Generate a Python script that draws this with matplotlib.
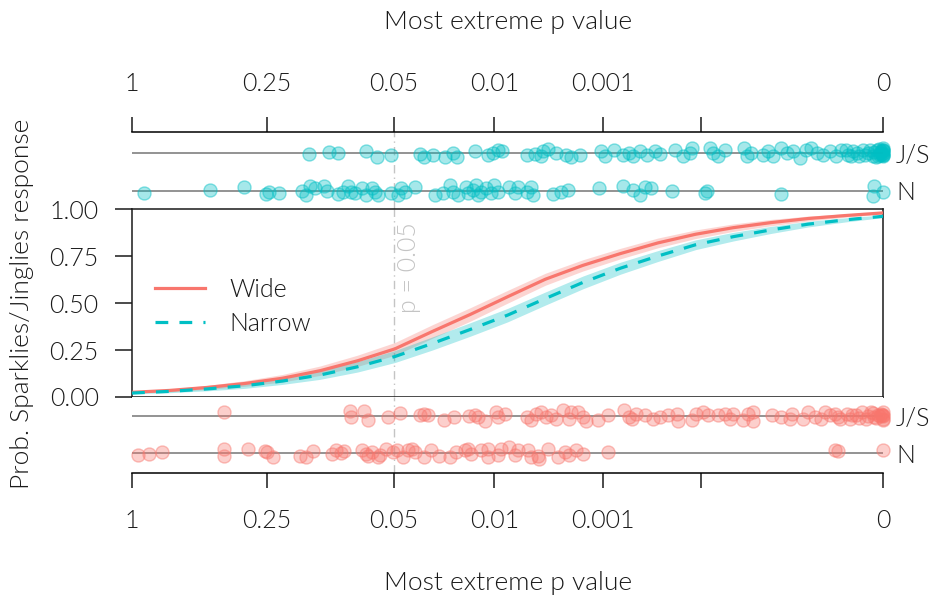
import numpy as np
import matplotlib
matplotlib.use("Agg")
import matplotlib.pyplot as plt
from matplotlib.colors import to_rgba
from matplotlib.lines import Line2D

plt.rcParams['font.family'] = ['Lato', 'DejaVu Sans']
plt.rcParams['font.weight'] = 300

# x positions are on the "evidence" scale: 1 - p**(1/7)  (p = 1 -> 0, p = 0 -> 1)
p_ticks = [1, 0.25, 0.05, 0.01, 0.001, 5e-5, 0]
p_tick_labels = ['1', '0.25', '0.05', '0.01', '0.001', '', '0']

# fitted curves (probability of Sparklies/Jinglies response)
curve_x = [0.0, 0.05, 0.10, 0.15, 0.20, 0.25, 0.30, 0.35, 0.40, 0.45, 0.50,
           0.55, 0.60, 0.65, 0.70, 0.75, 0.80, 0.85, 0.90, 0.95, 1.0]
wide_mid = [0.025, 0.035, 0.051, 0.072, 0.10, 0.14, 0.193, 0.257, 0.35, 0.44, 0.535,
            0.628, 0.702, 0.765, 0.822, 0.868, 0.903, 0.93, 0.952, 0.968, 0.982]
wide_lo = [0.021, 0.028, 0.040, 0.057, 0.080, 0.115, 0.163, 0.223, 0.314, 0.404, 0.501,
           0.596, 0.672, 0.737, 0.796, 0.845, 0.883, 0.913, 0.939, 0.959, 0.976]
wide_hi = [0.029, 0.042, 0.062, 0.087, 0.120, 0.165, 0.223, 0.291, 0.386, 0.476, 0.569,
           0.660, 0.732, 0.793, 0.848, 0.891, 0.923, 0.947, 0.965, 0.977, 0.988]
narrow_mid = [0.021, 0.030, 0.043, 0.060, 0.085, 0.117, 0.161, 0.216, 0.286, 0.36, 0.437,
              0.525, 0.611, 0.687, 0.752, 0.812, 0.855, 0.891, 0.922, 0.945, 0.964]
narrow_lo = [0.017, 0.023, 0.033, 0.046, 0.067, 0.094, 0.133, 0.184, 0.251, 0.324, 0.401,
             0.490, 0.577, 0.655, 0.723, 0.786, 0.832, 0.872, 0.907, 0.934, 0.957]
narrow_hi = [0.025, 0.037, 0.053, 0.074, 0.103, 0.140, 0.189, 0.248, 0.321, 0.396, 0.473,
             0.560, 0.645, 0.719, 0.781, 0.838, 0.878, 0.910, 0.937, 0.956, 0.971]

# raw responses, narrow condition (top strip); y = response (1 = J/S, 0 = N) with jitter
top_js_x = [0.236, 0.262, 0.274, 0.312, 0.326, 0.344, 0.383, 0.389, 0.400, 0.416,
            0.427, 0.433, 0.457, 0.474, 0.480, 0.487, 0.492, 0.525, 0.536, 0.544,
            0.547, 0.554, 0.564, 0.578, 0.584, 0.596, 0.624, 0.629, 0.641, 0.653,
            0.662, 0.667, 0.676, 0.685, 0.696, 0.702, 0.722, 0.733, 0.742, 0.745,
            0.769, 0.773, 0.780, 0.789, 0.815, 0.818, 0.824, 0.840, 0.846, 0.853,
            0.864, 0.871, 0.880, 0.889, 0.897, 0.904, 0.911, 0.920, 0.929, 0.937,
            0.944, 0.953, 0.960, 0.968, 0.973, 0.979, 0.986, 0.991, 0.995, 0.997,
            0.993, 0.998, 0.999, 1.0, 1.0, 1.0, 1.0,
            0.950, 0.957, 0.965, 0.975, 0.982, 0.988, 0.990, 0.994, 0.996, 0.999, 1.0, 1.0]
top_js_y = [0.98, 1.03, 0.99, 1.04, 0.89, 0.94, 0.98, 0.89, 0.96, 0.89,
            1.0, 0.89, 1.04, 0.96, 1.0, 1.09, 1.04, 0.94, 0.98, 0.91,
            1.04, 1.11, 1.0, 0.96, 0.89, 0.96, 1.04, 0.91, 1.09, 0.96,
            1.0, 0.91, 1.04, 0.96, 1.04, 0.98, 1.09, 0.91, 1.0, 1.13,
            1.13, 1.0, 0.91, 1.09, 1.13, 0.91, 1.0, 0.96, 1.04, 0.91,
            1.13, 1.0, 1.04, 0.87, 1.09, 1.13, 1.0, 0.96, 1.04, 0.91,
            1.09, 0.96, 1.04, 0.91, 1.09, 1.0, 0.91, 1.09, 0.96, 1.06,
            0.93, 0.98, 1.08, 1.04, 0.91, 1.0, 1.13,
            1.08, 0.93, 1.0, 0.95, 1.07, 1.02, 0.9, 1.11, 0.99, 0.95, 1.07, 0.95]
top_n_x = [0.016, 0.104, 0.149, 0.178, 0.182, 0.195, 0.226, 0.232, 0.237, 0.243,
           0.255, 0.259, 0.274, 0.281, 0.288, 0.292, 0.297, 0.306, 0.312, 0.319,
           0.323, 0.328, 0.345, 0.354, 0.358, 0.363, 0.376, 0.403, 0.414, 0.423,
           0.427, 0.434, 0.445, 0.447, 0.454, 0.458, 0.460, 0.465, 0.471, 0.478,
           0.482, 0.487, 0.502, 0.509, 0.513, 0.525, 0.531, 0.533, 0.560, 0.571,
           0.580, 0.622, 0.653, 0.667, 0.676, 0.682, 0.691, 0.718, 0.762, 0.765,
           0.864, 0.986, 0.988, 1.0]
top_n_y = [-0.04, 0.03, 0.11, -0.09, -0.02, -0.06, 0.0, -0.11, 0.13, 0.07,
           0.13, 0.0, -0.09, -0.02, 0.13, -0.02, -0.06, 0.09, -0.11, 0.07,
           -0.02, -0.11, -0.06, -0.11, 0.07, -0.02, 0.11, -0.11, -0.06, 0.16,
           -0.02, -0.11, 0.11, -0.06, 0.03, 0.16, -0.11, -0.02, 0.07, -0.06,
           0.16, -0.02, 0.11, -0.06, 0.11, -0.02, 0.11, -0.11, -0.09, -0.02,
           0.03, 0.07, 0.14, 0.03, -0.11, 0.11, 0.09, 0.0, -0.06, 0.0,
           -0.09, -0.12, 0.14, -0.02]

# raw responses, wide condition (bottom strip)
bot_js_x = [0.122, 0.290, 0.291, 0.309, 0.314, 0.340, 0.357, 0.383, 0.389, 0.394,
            0.415, 0.429, 0.449, 0.456, 0.460, 0.470, 0.485, 0.487, 0.496, 0.525,
            0.531, 0.538, 0.544, 0.551, 0.558, 0.564, 0.573, 0.582, 0.584, 0.593,
            0.600, 0.604, 0.620, 0.633, 0.655, 0.662, 0.665, 0.671, 0.682, 0.693,
            0.702, 0.713, 0.725, 0.727, 0.745, 0.751, 0.760, 0.767, 0.780, 0.789,
            0.796, 0.800, 0.813, 0.820, 0.826, 0.826, 0.851, 0.864, 0.875, 0.878,
            0.893, 0.900, 0.909, 0.917, 0.922, 0.929, 0.935, 0.942, 0.951, 0.955,
            0.964, 0.971, 0.977, 0.984, 0.988, 0.993, 0.997, 1.0, 1.0, 1.0,
            1.0, 0.998,
            0.940, 0.958, 0.968, 0.980, 0.986, 0.990, 0.995, 1.0]
bot_js_y = [1.11, 1.13, 0.97, 1.13, 0.90, 0.96, 1.08, 1.02, 1.06, 1.02,
            0.90, 0.97, 0.99, 1.04, 0.97, 0.87, 1.11, 0.96, 1.06, 0.97,
            0.90, 1.06, 1.11, 0.97, 1.02, 0.93, 1.15, 0.93, 1.11, 1.11,
            0.97, 0.87, 0.89, 1.02, 1.15, 0.97, 0.93, 1.06, 1.02, 0.93,
            0.97, 1.02, 1.06, 0.87, 0.89, 1.06, 1.11, 1.02, 1.02, 1.06,
            0.93, 1.06, 0.89, 1.06, 1.11, 0.87, 1.04, 0.97, 0.93, 1.06,
            0.93, 1.11, 0.97, 0.93, 1.11, 1.02, 1.06, 0.93, 1.06, 0.93,
            1.02, 1.11, 0.93, 1.11, 0.97, 1.02, 1.06, 0.93, 0.99, 1.1,
            0.9, 1.04,
            0.98, 1.04, 0.95, 1.0, 1.08, 0.95, 1.0, 1.03]
bot_n_x = [0.008, 0.022, 0.040, 0.122, 0.123, 0.154, 0.177, 0.179, 0.188, 0.223,
           0.231, 0.241, 0.266, 0.272, 0.278, 0.282, 0.306, 0.311, 0.314, 0.319,
           0.328, 0.330, 0.338, 0.347, 0.352, 0.361, 0.367, 0.372, 0.376, 0.389,
           0.398, 0.409, 0.423, 0.431, 0.443, 0.447, 0.451, 0.465, 0.474, 0.474,
           0.487, 0.491, 0.502, 0.509, 0.513, 0.527, 0.531, 0.540, 0.542, 0.553,
           0.567, 0.576, 0.582, 0.591, 0.600, 0.633, 0.935, 0.940, 1.0]
bot_n_y = [-0.06, -0.04, 0.03, 0.11, -0.09, 0.11, 0.05, 0.03, -0.12, -0.09,
           -0.11, 0.05, -0.04, 0.09, 0.0, 0.05, 0.07, -0.04, -0.09, 0.03,
           -0.11, -0.06, 0.11, 0.03, 0.07, -0.11, 0.07, 0.11, 0.03, -0.11,
           0.09, -0.09, -0.12, 0.03, 0.07, 0.11, -0.04, 0.09, 0.11, -0.11,
           -0.06, 0.11, 0.16, -0.06, 0.07, 0.09, -0.12, -0.09, -0.15, 0.11,
           -0.11, 0.03, -0.06, 0.07, -0.04, 0.03, 0.07, 0.05, 0.07]

red = '#F8766D'
cyan = '#00BFC4'
ink = '#1a1a1a'
fs = 18      # tick labels, legend
fs_title = 19


def evid(p):
    return 1 - np.asarray(p, dtype=float) ** (1 / 7)


W, H = 934, 599
fig = plt.figure(figsize=(W / 100, H / 100), dpi=100)


def box(l, t, r, b):
    return [l / W, 1 - b / H, (r - l) / W, (b - t) / H]


ax_top = fig.add_axes(box(132, 132, 883.5, 209.5))
ax = fig.add_axes(box(132, 209.5, 883.5, 397))
ax_bot = fig.add_axes(box(132, 397, 883.5, 473))

p05 = float(evid(0.05))
for a in (ax_top, ax, ax_bot):
    a.set_xlim(0, 1)
    a.axvline(p05, color='#c4c4c4', lw=1, ls=(0, (6, 3, 1, 3)), zorder=0)


def strip(a, jx, jy, nx, ny, col):
    for row in (1, 0):
        a.axhline(row, color='#808080', lw=1.2, zorder=1)
    a.scatter(jx + nx, jy + ny, s=88, facecolor=to_rgba(col, 0.35),
              edgecolor=to_rgba(col, 0.45), linewidths=1, zorder=2, clip_on=False)
    for s in a.spines.values():
        s.set_visible(False)
    a.yaxis.tick_right()
    a.set_yticks([1, 0])
    a.set_yticklabels(['J/S', 'N'])
    a.tick_params(axis='y', length=0, pad=9, labelsize=fs, labelcolor=ink)
    a.set_xticks(evid(p_ticks))
    a.set_xticklabels(p_tick_labels)
    a.tick_params(axis='x', length=11, width=1.1, pad=15, labelsize=fs,
                  color=ink, labelcolor=ink)


strip(ax_top, top_js_x, top_js_y, top_n_x, top_n_y, cyan)
ax_top.set_ylim(-0.487, 1.553)
ax_top.spines['top'].set_visible(True)
ax_top.spines['top'].set_linewidth(1.1)
ax_top.xaxis.tick_top()

strip(ax_bot, bot_js_x, bot_js_y, bot_n_x, bot_n_y, red)
ax_bot.set_ylim(-0.54, 1.514)
ax_bot.spines['bottom'].set_visible(True)
ax_bot.spines['bottom'].set_linewidth(1.1)

# main panel
ax.fill_between(curve_x, wide_lo, wide_hi, color=red, alpha=0.3, lw=0, zorder=1)
ax.fill_between(curve_x, narrow_lo, narrow_hi, color=cyan, alpha=0.3, lw=0, zorder=1)
ax.plot(curve_x, wide_mid, color=red, lw=2.3, zorder=3)
ax.plot(curve_x, narrow_mid, color=cyan, lw=2.3, dashes=(4, 3.5), zorder=3)
ax.set_ylim(0, 1)
ax.set_xticks([])
ax.set_yticks([0, 0.25, 0.5, 0.75, 1])
ax.set_yticklabels(['0.00', '0.25', '0.50', '0.75', '1.00'])
ax.tick_params(axis='y', length=12, width=1.1, pad=12, labelsize=fs,
               color=ink, labelcolor=ink)
for s in ax.spines.values():
    s.set_linewidth(1.1)
    s.set_color(ink)

ax.annotate('p = 0.05', xy=(p05, 0.933), xycoords=('data', 'axes fraction'),
            xytext=(11, 0), textcoords='offset points', rotation=90,
            ha='center', va='top', fontsize=fs, color='#c4c4c4')

handles = [Line2D([], [], color=red, lw=2.3),
           Line2D([], [], color=cyan, lw=2.3, dashes=(4, 3.5))]
ax.legend(handles, ['Wide', 'Narrow'], loc='upper left',
          bbox_to_anchor=(0.031, 0.635), frameon=False, borderaxespad=0,
          borderpad=0, handlelength=2.0, handletextpad=0.95, labelspacing=0.4,
          fontsize=fs, labelcolor=ink)

fig.text(508 / W, 1 - 22 / H, 'Most extreme p value', ha='center', va='center',
         fontsize=fs_title, color=ink)
fig.text(508 / W, 1 - 583 / H, 'Most extreme p value', ha='center', va='center',
         fontsize=fs_title, color=ink)
fig.text(22 / W, 1 - 304 / H, 'Prob. Sparklies/Jinglies response', rotation=90,
         ha='center', va='center', fontsize=fs_title, color=ink)

fig.savefig('out.png', dpi=100)
